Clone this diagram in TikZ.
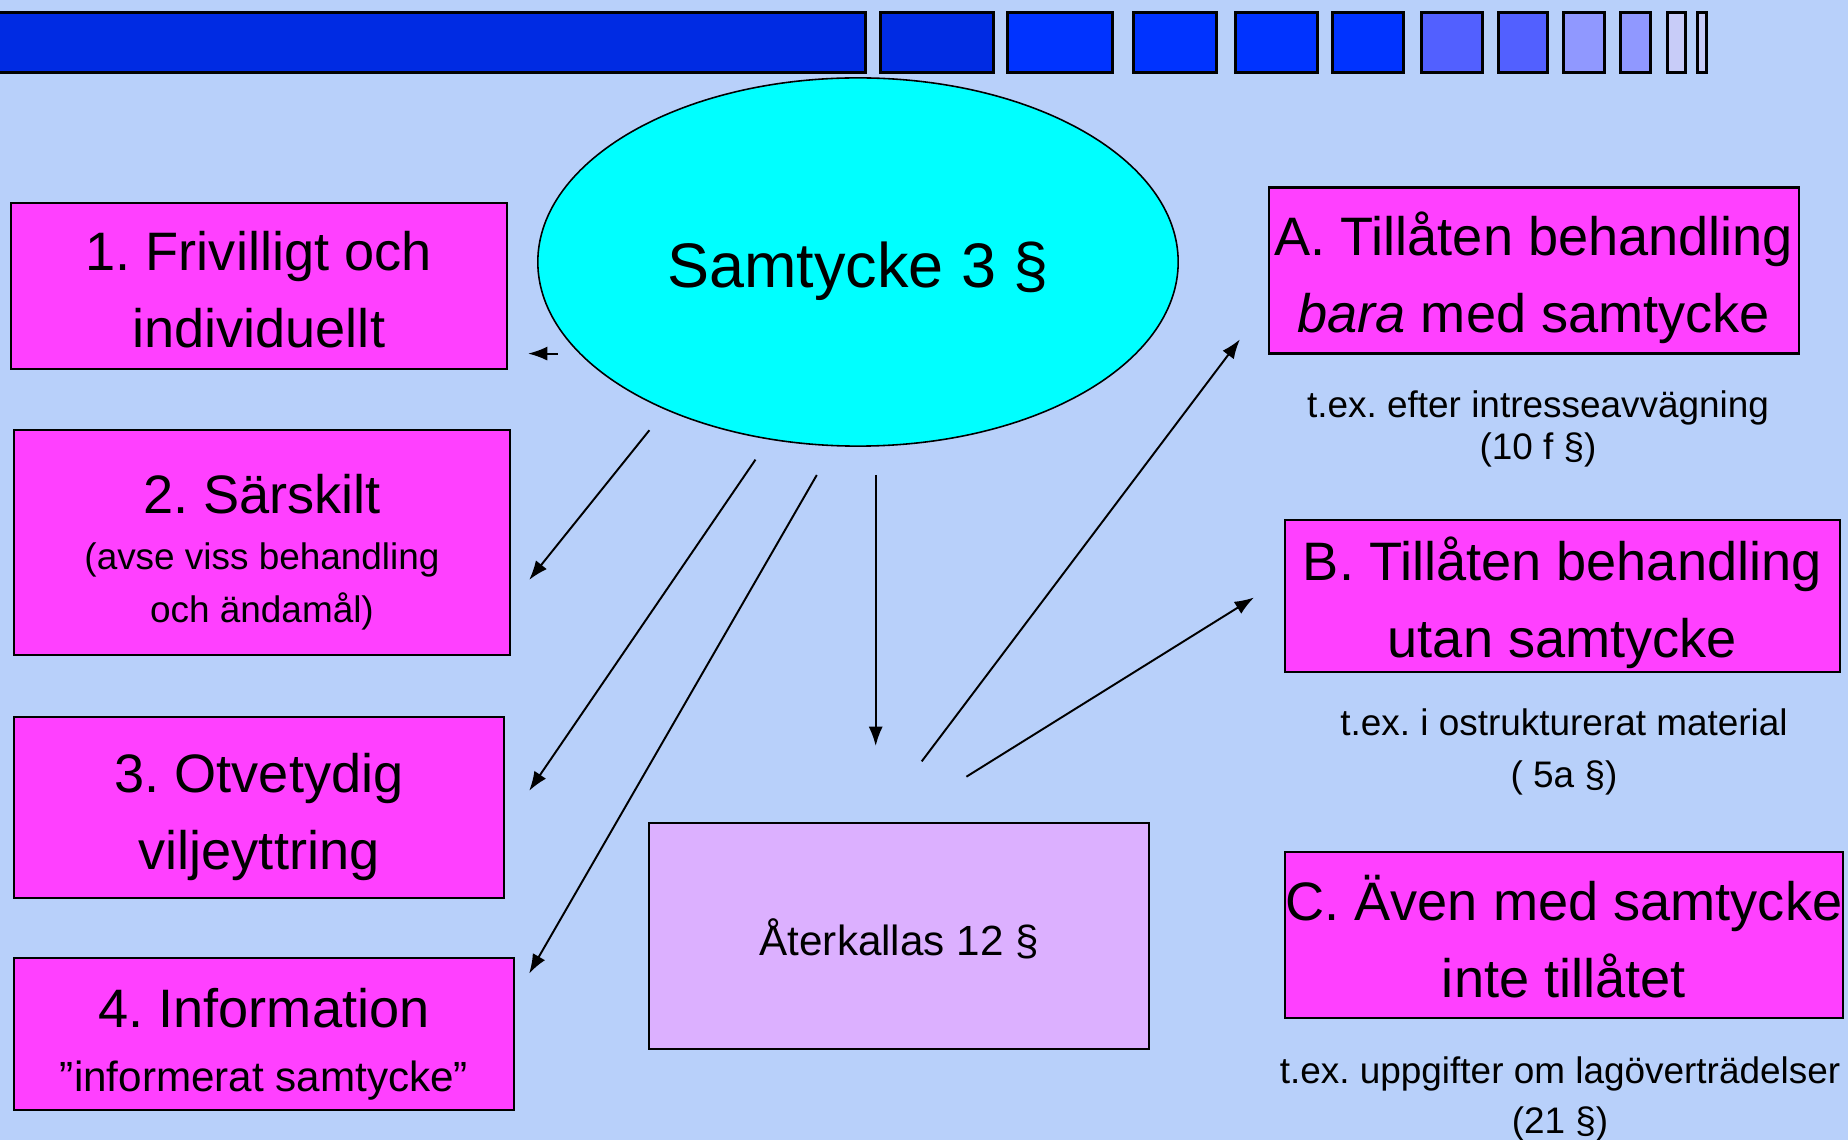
\documentclass[tikz,border=0pt]{standalone}
\usepackage{fontspec}
\setmainfont{Liberation Sans}
\usetikzlibrary{shapes.geometric,arrows.meta}
\frenchspacing

\definecolor{bgblue}{RGB}{184,208,250}
\definecolor{bardark}{RGB}{0,43,227}
\definecolor{barblue}{RGB}{0,51,255}
\definecolor{barmid}{RGB}{82,96,255}
\definecolor{barlight}{RGB}{144,152,255}
\definecolor{barpale}{RGB}{200,204,248}
\definecolor{boxpink}{RGB}{255,64,255}
\definecolor{boxlilac}{RGB}{220,176,255}
\definecolor{ellcyan}{RGB}{0,255,255}

\tikzset{
  pinkbox/.style={draw, line width=0.6pt, fill=boxpink, inner sep=0pt},
  bigtext/.style={align=center, font=\fontsize{15.4}{21.9}\selectfont},
  notetext/.style={align=center, inner sep=0pt},
  arr/.style={-{Latex[length=5.5pt,width=4pt]}, line width=0.55pt},
}

\begin{document}
\begin{tikzpicture}[x=0.01cm, y=-0.01cm]
\useasboundingbox (0,0) rectangle (1848,1140);
\fill[bgblue] (0,0) rectangle (1848,1140);

% top bar
\draw[fill=bardark, line width=0.85pt] (-5,13) rectangle (865,73);
\foreach \xa/\xb/\col in {880.6/993.9/bardark, 1007.9/1112.3/barblue,
  1133.3/1216/barblue, 1235/1317.9/barblue, 1332.5/1403.8/barblue,
  1421/1482/barmid, 1498/1547.7/barmid, 1563.6/1604.3/barlight,
  1620/1650/barlight, 1667.3/1685/barpale, 1697.9/1706.8/barpale}
{
	\draw[fill=\col, line width=0.85pt] (\xa,13) rectangle (\xb,73);
}

% centre
\node[draw, ellipse, fill=ellcyan, line width=0.45pt, inner sep=0pt,
  minimum width=6.4cm, minimum height=3.68cm] (samtycke) at (858,262) {};
\node[font=\fontsize{17.9}{20}\selectfont] (samtext) at (858,271) {Samtycke 3 §};

% left column
\node[pinkbox, minimum width=4.96cm, minimum height=1.66cm,
  label={[bigtext, yshift=-0.035cm]center:{1. Frivilligt och\\individuellt}}] (frivillig) at (258.7,285.8) {};
\node[pinkbox, minimum width=4.96cm, minimum height=2.25cm,
  label={[align=center, font=\fontsize{15.4}{17.8}\selectfont, yshift=-0.1cm]center:{2. Särskilt\\[-2pt]{\fontsize{10.5}{12}\selectfont (avse viss behandling}\\[-2.7pt]{\fontsize{10.5}{12}\selectfont och ändamål)}}}] (sarskilt) at (262,542.5) {};
\node[pinkbox, minimum width=4.9cm, minimum height=1.81cm,
  label={[bigtext, yshift=-0.1cm]center:{3. Otvetydig\\viljeyttring}}] (otvetydig) at (259,807.3) {};
\node[pinkbox, minimum width=5cm, minimum height=1.52cm,
  label={[align=center, font=\fontsize{15.4}{18.2}\selectfont, yshift=-0.1cm]center:{4. Information\\{\fontsize{12}{14}\selectfont ”informerat samtycke”}}}] (information) at (264,1034) {};

% right column
\node[pinkbox, minimum width=5.3cm, minimum height=1.66cm,
  label={[bigtext, yshift=-0.07cm]center:{A. Tillåten behandling\\\textit{bara} med samtycke}}] (tillatenA) at (1533.8,270.5) {};
\node[pinkbox, minimum width=5.55cm, minimum height=1.52cm,
  label={[bigtext, yshift=-0.065cm]center:{B. Tillåten behandling\\utan samtycke}}] (tillatenB) at (1562.3,595.8) {};
\node[pinkbox, minimum width=5.58cm, minimum height=1.66cm,
  label={[bigtext, yshift=-0.02cm]center:{C. Även med samtycke\\inte tillåtet}}] (avenC) at (1563.9,935) {};

\node[notetext, font=\fontsize{10.5}{12}\selectfont] (noteA) at (1538,429)
  {t.ex. efter intresseavvägning\\(10 f §)};
\node[notetext, font=\fontsize{10.5}{15}\selectfont] (noteB) at (1564,752)
  {t.ex. i ostrukturerat material\\( 5a §)};
\node[notetext, font=\fontsize{10.5}{14}\selectfont] (noteC) at (1560,1099)
  {t.ex. uppgifter om lagöverträdelser\\(21 §)};

% revoked
\node[draw, fill=boxlilac, line width=0.6pt, minimum width=5cm, minimum height=2.26cm,
  font=\fontsize{12}{14}\selectfont] (aterkallas) at (899.2,935.9) {};
\node[font=\fontsize{12}{14}\selectfont] (atertext) at (899.2,938.5) {Återkallas 12 §};

% arrows
\coordinate (s1) at (557.5,353.6);
\coordinate (e1) at (528,353.6);
\coordinate (s2) at (649.4,430.2);
\coordinate (e2) at (529.2,579.9);
\coordinate (s3) at (755.5,459.6);
\coordinate (e3) at (529.2,790.8);
\coordinate (s4) at (816.8,475);
\coordinate (e4) at (529.2,973.5);
\coordinate (s5) at (875.7,475);
\coordinate (e5) at (875.7,746);
\coordinate (s6) at (921.7,761.4);
\coordinate (e6) at (1239.9,339.4);
\coordinate (s7) at (966.4,776.7);
\coordinate (e7) at (1254,597.5);
\foreach \i in {1,...,7}
{
	\draw[arr] (s\i) -- (e\i);
}
\end{tikzpicture}
\end{document}
